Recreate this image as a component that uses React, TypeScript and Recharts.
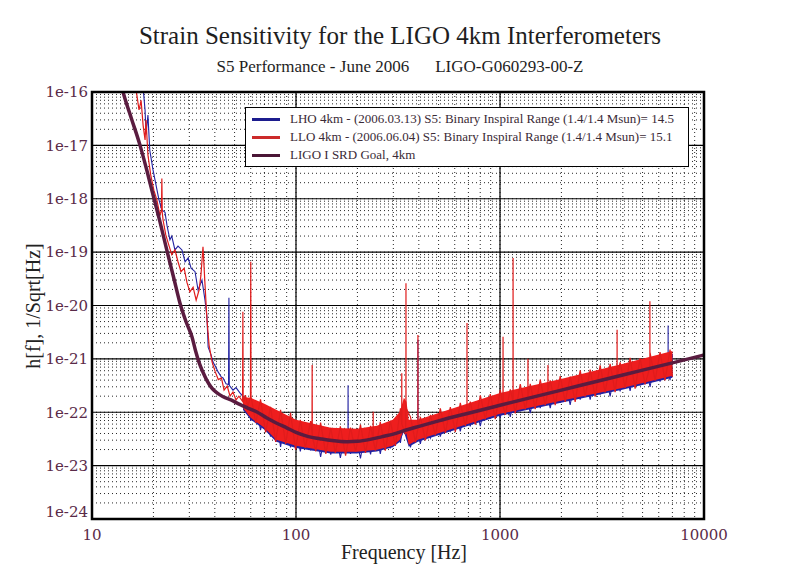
import { ComposedChart, Area, Line, XAxis, YAxis, CartesianGrid, Legend, ReferenceArea } from "recharts";

// [frequency Hz, strain 1/sqrt(Hz)]
const SRD_GOAL: [number, number][] = [
  [13.5, 2.2e-16], [14.2, 1e-16], [15.6, 3.2e-17], [17.2, 1e-17], [18.5, 3.6e-18], [19.9, 1.2e-18],
  [21.5, 3.8e-19], [23.4, 1e-19], [25.2, 3.2e-20], [27, 1.1e-20], [29, 4.8e-21], [30.9, 2.6e-21],
  [32.2, 1.4e-21], [33.5, 8.5e-22], [35, 5.6e-22], [36.5, 4e-22], [38.5, 2.9e-22], [41, 2.3e-22],
  [44, 1.95e-22], [48, 1.7e-22], [53, 1.4e-22], [58, 1.2e-22], [64, 1.02e-22], [72, 7.8e-23],
  [80, 6.3e-23], [90, 5.1e-23], [100, 4.2e-23], [115, 3.5e-23], [131, 3.2e-23], [150, 2.95e-23],
  [178, 2.8e-23], [200, 2.85e-23], [231, 3.1e-23], [265, 3.5e-23], [300, 3.9e-23], [350, 4.7e-23],
  [405, 5.5e-23], [500, 6.9e-23], [700, 9.6e-23], [1000, 1.35e-22], [2000, 2.6e-22], [4000, 5e-22],
  [7000, 8.4e-22], [10000, 1.18e-21],
];

const LHO_TRACE: [number, number][] = [
  [17.8, 1.2e-16], [18.2, 4.6e-17], [18.4, 1.6e-17], [18.8, 3.7e-17], [19.2, 8.1e-18], [19.9, 3.5e-18],
  [20.6, 1.8e-18], [21.3, 9.5e-19], [22.0, 6.2e-19], [22.8, 5.6e-19], [23.3, 3.2e-19], [24.1, 1.7e-19],
  [24.6, 2e-19], [25.5, 1.1e-19], [26.4, 1.3e-19], [27.6, 1.1e-19], [28.6, 6.6e-20], [29.6, 7.8e-20],
  [30.6, 5e-20], [32.0, 4.3e-20], [33.1, 1.95e-20], [34.6, 3e-20], [35.8, 1.26e-20], [36.6, 6.2e-21],
  [37.1, 1.66e-21], [38.3, 1.2e-21], [39.2, 8.7e-22], [40.6, 6.8e-22], [41.5, 5.7e-22], [43.0, 4.6e-22],
  [43.9, 4.4e-22], [45.4, 3.4e-22], [46.7, 3.3e-22], [46.9, 1.4e-20], [47.1, 3.2e-22], [49.1, 2.6e-22],
  [50.8, 2.9e-22], [53.1, 2.3e-22], [55.5, 1.9e-22], [58, 1.7e-22],
  [60, 6.9e-23], [63.5, 1.5e-22], [67, 4.6e-23], [71, 1.21e-22], [75, 3.5e-23], [79.5, 1e-22],
  [84, 2.25e-23], [89, 8e-23], [94, 2.2e-23], [99.5, 6.4e-23], [105, 1.84e-23], [111, 5.75e-23],
  [118, 1.94e-23], [125, 5.2e-23], [132, 1.45e-23], [140, 4.7e-23], [148, 1.6e-23], [156, 4.45e-23],
  [165, 1.4e-23], [175, 4.35e-23], [179.8, 3e-23], [180, 3.2e-22], [180.2, 3e-23], [185, 1.66e-23],
  [196, 4.3e-23], [207, 1.36e-23], [219, 4.55e-23], [232, 1.63e-23], [245, 4.85e-23], [259, 1.66e-23],
  [274, 5.6e-23], [290, 2.1e-23], [307, 7.1e-23], [325, 2.67e-23], [344, 1.24e-22], [364, 2.2e-23],
  [385, 6.3e-23], [395.8, 4e-23], [396, 2.27e-21], [396.2, 4e-23], [407, 2.55e-23], [431, 7e-23],
  [456, 3.32e-23], [482, 8.1e-23], [510, 3.5e-23], [540, 9.33e-23], [571, 4.5e-23], [604, 1.1e-22],
  [639, 4.4e-23], [676, 1.25e-22], [715, 5.45e-23], [757, 1.43e-22], [801, 5.5e-23], [847, 1.65e-22],
  [896, 7.6e-23], [948, 1.9e-22], [1003, 7.9e-23], [1061, 2.14e-22], [1123, 8.2e-23], [1188, 2.38e-22],
  [1257, 1.07e-22], [1330, 2.6e-22], [1407, 9.6e-23], [1488, 2.87e-22], [1575, 1.19e-22], [1666, 3.15e-22],
  [1763, 1.19e-22], [1865, 3.5e-22], [1973, 1.5e-22], [2087, 3.88e-22], [2208, 1.38e-22], [2336, 4.33e-22],
  [2472, 1.72e-22], [2615, 4.81e-22], [2767, 1.72e-22], [2927, 5.3e-22], [3097, 2.14e-22], [3276, 5.95e-22],
  [3466, 1.98e-22], [3667, 6.6e-22], [3880, 2.47e-22], [4105, 7.3e-22], [4343, 2.52e-22], [4595, 8.2e-22],
  [4861, 3.18e-22], [5143, 9.2e-22], [5441, 2.97e-22], [5757, 1.02e-21], [6090, 3.76e-22], [6443, 1.15e-21],
  [6668, 6e-22], [6670, 4.2e-21], [6672, 6e-22], [6817, 4e-22], [7000, 1.24e-21],
];

const LLO_TRACE: [number, number][] = [
  [16.4, 1.2e-16], [17.0, 4.6e-17], [17.4, 7e-17], [17.8, 2.4e-17], [18.2, 1.26e-17], [18.4, 3e-17],
  [18.8, 6.6e-18], [19.4, 2.8e-18], [20.1, 1.45e-18], [20.8, 9.5e-19], [21.5, 5e-19], [21.9, 6e-19],
  [22.0, 2.4e-18], [22.1, 5.5e-19], [22.3, 4e-19], [23.0, 2.1e-19], [23.8, 1.35e-19], [24.6, 9e-20],
  [25.5, 1.1e-19], [26.4, 6.6e-20], [27.3, 4.3e-20], [28.3, 5e-20], [29.2, 2.7e-20], [30.2, 1.8e-20],
  [31.3, 2.2e-20], [32.4, 1.26e-20], [33.5, 1.95e-20], [34.2, 3.7e-20], [35.0, 1.26e-19], [35.8, 2.5e-20],
  [36.6, 5.4e-21], [37.5, 1.8e-21], [38.8, 8.7e-22], [40.2, 5.7e-22], [41.6, 4.1e-22], [43.1, 4.4e-22],
  [44.4, 2.6e-22], [46.0, 3.1e-22], [47.5, 2e-22], [49.1, 2.4e-22], [50.8, 1.7e-22], [52.5, 2e-22],
  [54.7, 1.6e-22], [54.9, 7.6e-21], [55.1, 1.5e-22], [56.5, 2.1e-22], [58, 1.3e-22], [59.8, 1.9e-22],
  [60, 6.6e-20], [60.2, 1.95e-22],
  [63.5, 6.3e-23], [67, 1.75e-22], [71, 4.2e-23], [75, 1.26e-22], [79.5, 2.79e-23], [84, 1.11e-22],
  [89, 2.56e-23], [94, 9.7e-23], [99.5, 1.98e-23], [105, 7.21e-23], [111, 2.15e-23], [118, 6.8e-23],
  [119.8, 4e-23], [120, 7.7e-22], [120.2, 3.5e-23], [125, 1.86e-23], [132, 6.4e-23], [140, 1.66e-23],
  [148, 5.11e-23], [156, 1.73e-23], [165, 5.45e-23], [175, 1.53e-23], [185, 5.15e-23], [196, 1.81e-23],
  [207, 5.9e-23], [219, 1.73e-23], [232, 5.56e-23], [238.8, 3e-23], [239, 1.02e-22], [239.2, 3e-23],
  [245, 1.9e-23], [259, 6.6e-23], [274, 1.9e-23], [290, 6.9e-23], [307, 2.35e-23], [325, 1.18e-22],
  [329.8, 6e-23], [330, 5.4e-22], [330.2, 6e-23], [344, 3.85e-23], [345.8, 1.2e-22], [346, 2.6e-20],
  [346.2, 1.2e-22], [364, 8.2e-23], [385, 2.73e-23], [395.8, 5e-23], [396, 2.8e-21], [396.2, 5e-23],
  [407, 8.2e-23], [431, 2.96e-23], [456, 8.95e-23], [482, 3.7e-23], [510, 1.18e-22], [540, 4.1e-23],
  [571, 1.25e-22], [604, 4.3e-23], [639, 1.5e-22], [676, 5.56e-23], [688.6, 8e-23], [689, 4.7e-21],
  [689.4, 8e-23], [715, 1.58e-22], [757, 5.85e-23], [801, 2.08e-22], [847, 7.35e-23], [896, 2.19e-22],
  [948, 7.4e-23], [1003, 2.64e-22], [1034, 1.3e-22], [1035, 2.6e-21], [1036, 1.3e-22], [1061, 8.95e-23],
  [1123, 2.68e-22], [1158, 1.6e-22], [1159, 7.8e-20], [1160, 1.6e-22], [1188, 9.5e-23], [1257, 3.36e-22],
  [1330, 1.13e-22], [1370, 2e-22], [1371, 1e-21], [1372, 2e-22], [1407, 3.4e-22], [1488, 1.14e-22],
  [1575, 4.1e-22], [1666, 1.35e-22], [1717, 2.6e-22], [1718, 7.7e-22], [1719, 2.6e-22], [1763, 3.97e-22],
  [1865, 1.36e-22], [1973, 4.77e-22], [2087, 1.56e-22], [2208, 4.65e-22], [2336, 1.57e-22], [2472, 6.1e-22],
  [2615, 1.96e-22], [2767, 6.3e-22], [2927, 1.97e-22], [3097, 7.6e-22], [3276, 2.35e-22], [3466, 8.1e-22],
  [3667, 2.37e-22], [3748, 4.5e-22], [3750, 3.5e-21], [3752, 4.5e-22], [3880, 8.6e-22], [4105, 2.84e-22],
  [4343, 1.05e-21], [4595, 2.77e-22], [4861, 1.03e-21], [5143, 3.34e-22], [5428, 7e-22], [5430, 1.2e-20],
  [5432, 7e-22], [5441, 1.31e-21], [5757, 3.9e-22], [6090, 1.34e-21], [6443, 3.95e-22], [6817, 1.5e-21],
  [7000, 4.6e-22],
];

// noise band envelope [frequency, lower, upper]
const LHO_BAND: [number, number, number][] = [
  [55, 1.1e-22, 1.8e-22], [60, 7.3e-23, 1.6e-22], [70, 4.7e-23, 1.25e-22], [80, 2.8e-23, 9.3e-23],
  [100, 2.15e-23, 6.1e-23], [148, 1.68e-23, 4.4e-23], [199, 1.68e-23, 4.2e-23], [249, 1.84e-23, 4.8e-23],
  [298, 2.2e-23, 6.2e-23], [323, 2.8e-23, 8.8e-23], [338, 4.3e-23, 1.5e-22], [357, 2.25e-23, 6.5e-23],
  [396, 2.8e-23, 6.3e-23], [1000, 8.6e-23, 1.95e-22], [1990, 1.5e-22, 3.6e-22], [3970, 2.65e-22, 6.9e-22],
  [7000, 4.45e-22, 1.2e-21],
];

const LLO_BAND: [number, number, number][] = [
  [55, 1.2e-22, 1.9e-22], [60, 7.86e-23, 1.86e-22], [70, 5.11e-23, 1.44e-22], [80, 3.04e-23, 1.11e-22],
  [100, 2.35e-23, 7.21e-23], [148, 1.81e-23, 5.11e-23], [199, 1.81e-23, 4.9e-23], [249, 1.98e-23, 5.56e-23],
  [298, 2.35e-23, 7.21e-23], [323, 3.04e-23, 1.02e-22], [338, 4.68e-23, 1.86e-22], [348, 3.94e-23, 1.57e-22],
  [357, 2.45e-23, 7.21e-23], [396, 3.04e-23, 7.21e-23], [1000, 9.33e-23, 2.3e-22], [1990, 1.64e-22, 4.2e-22],
  [3970, 2.86e-22, 8.05e-22], [7000, 4.81e-22, 1.4e-21],
];

const X_DECADES = [10, 100, 1000, 10000];
const Y_DECADES = [1e-24, 1e-23, 1e-22, 1e-21, 1e-20, 1e-19, 1e-18, 1e-17, 1e-16];
const SUBDIV = [1, 2, 3, 4, 5, 6, 7, 8, 9];

const LEGEND_ITEMS = [
  { label: "LHO 4km - (2006.03.13) S5: Binary Inspiral Range (1.4/1.4 Msun)= 14.5", color: "#1c1c8e" },
  { label: "LLO 4km - (2006.06.04) S5: Binary Inspiral Range (1.4/1.4 Msun)= 15.1", color: "#cc2a2a" },
  { label: "LIGO I SRD Goal, 4km", color: "#4a1535" },
];

const BLUE = "#2222a2";
const RED = "#ee1e1e";
const SRD_COLOR = "#5a1c40";
const TICK_COLOR = "#5a2a48";
const SERIF = "'Liberation Serif', 'DejaVu Serif', serif";

const xTicks = X_DECADES.flatMap((d, i) => (i === X_DECADES.length - 1 ? [d] : SUBDIV.map((m) => d * m)));
const yTicks = Y_DECADES.flatMap((d, i) => (i === Y_DECADES.length - 1 ? [d] : SUBDIV.map((m) => d * m)));

const toPoints = (rows: [number, number][]) => rows.map(([f, h]) => ({ f, h }));
const toBand = (rows: [number, number, number][]) => rows.map(([f, lo, hi]) => ({ f, range: [lo, hi] }));

function YTick(props: any) {
  const { x, y, payload } = props;
  if (!Y_DECADES.includes(payload.value)) return <g />;
  const shift = payload.value === Y_DECADES[0] ? -7 : 0;
  return (
    <text x={x} y={y + shift} dy="0.355em" textAnchor="end" fill={TICK_COLOR} fontSize={15} fontFamily="DejaVu Serif">
      {payload.value.toExponential(0)}
    </text>
  );
}

function LegendBox() {
  return (
    <div style={{ width: 444, height: 60, border: "1px solid #000", background: "#fff", boxSizing: "border-box", padding: "2px 0 0 6px" }}>
      {LEGEND_ITEMS.map((item) => (
        <div key={item.label} style={{ display: "flex", alignItems: "center", height: 18 }}>
          <span style={{ display: "inline-block", width: 28, height: 3, background: item.color, marginRight: 10 }} />
          <span style={{ fontFamily: SERIF, fontSize: 13, color: "#3a2a36", whiteSpace: "nowrap" }}>{item.label}</span>
        </div>
      ))}
    </div>
  );
}

export default function App() {
  return (
    <div style={{ position: "relative", width: 784, height: 571, fontFamily: SERIF, color: "#1e1e1e" }}>
      <div style={{ position: "absolute", top: 13, left: 0, width: 784, textAlign: "center", fontSize: 25, lineHeight: "30px" }}>
        Strain Sensitivity for the LIGO 4km Interferometers
      </div>
      <div style={{ position: "absolute", top: 49, left: 0, width: 784, textAlign: "center", fontSize: 17, lineHeight: "20px" }}>
        S5 Performance - June 2006<span style={{ marginLeft: 26 }}>LIGO-G060293-00-Z</span>
      </div>

      <ComposedChart width={784} height={571} margin={{ top: 84, right: 88, bottom: 30, left: 24 }}>
        <CartesianGrid stroke="#000" strokeDasharray="1 3" strokeOpacity={0.85} />
        <CartesianGrid stroke="#000" strokeWidth={1.2} horizontalValues={Y_DECADES} verticalValues={X_DECADES} />
        <XAxis
          dataKey="f"
          type="number"
          scale="log"
          domain={[10, 10000]}
          allowDataOverflow
          ticks={xTicks}
          interval={0}
          tickFormatter={(v: number) => (X_DECADES.includes(v) ? String(v) : "")}
          tick={{ fill: TICK_COLOR, fontSize: 15, fontFamily: "DejaVu Serif" }}
          tickLine={false}
          axisLine={false}
          tickSize={0}
          tickMargin={10}
          height={30}
        />
        <YAxis
          type="number"
          scale="log"
          domain={[1e-24, 1e-16]}
          allowDataOverflow
          ticks={yTicks}
          interval={0}
          tick={<YTick />}
          tickLine={false}
          axisLine={false}
          tickSize={0}
          tickMargin={4}
          width={60}
        />
        <Area zIndex={401} data={toBand(LHO_BAND)} dataKey="range" type="linear" stroke="none" fill={BLUE} fillOpacity={1} isAnimationActive={false} />
        <Line zIndex={402} data={toPoints(LHO_TRACE)} dataKey="h" type="linear" stroke={BLUE} strokeWidth={1.1} dot={false} isAnimationActive={false} />
        <Area zIndex={403} data={toBand(LLO_BAND)} dataKey="range" type="linear" stroke="none" fill={RED} fillOpacity={1} isAnimationActive={false} />
        <Line zIndex={404} data={toPoints(LLO_TRACE)} dataKey="h" type="linear" stroke="#e01c1c" strokeWidth={1.2} dot={false} isAnimationActive={false} />
        <Line zIndex={405} data={toPoints(SRD_GOAL)} dataKey="h" type="monotone" stroke={SRD_COLOR} strokeWidth={3.5} dot={false} isAnimationActive={false} />
        <ReferenceArea zIndex={406} x1={10} x2={10000} y1={1e-24} y2={1e-16} fill="none" stroke="#000" strokeWidth={2.5} />
        <Legend
          layout="vertical"
          align="center"
          verticalAlign="middle"
          content={() => <LegendBox />}
          wrapperStyle={{ left: 237, top: 99, width: 444 }}
        />
      </ComposedChart>

      <div style={{ position: "absolute", top: 532, left: 296, width: 200, textAlign: "center", fontSize: 20, lineHeight: "24px", color: "#222" }}>
        Frequency [Hz]
      </div>
      <div
        style={{
          position: "absolute",
          left: 25,
          top: 298,
          transform: "translate(-50%, -50%) rotate(-90deg)",
          whiteSpace: "nowrap",
          fontSize: 20,
          lineHeight: "24px",
          color: "#222",
        }}
      >
        h[f], 1/Sqrt[Hz]
      </div>
    </div>
  );
}
